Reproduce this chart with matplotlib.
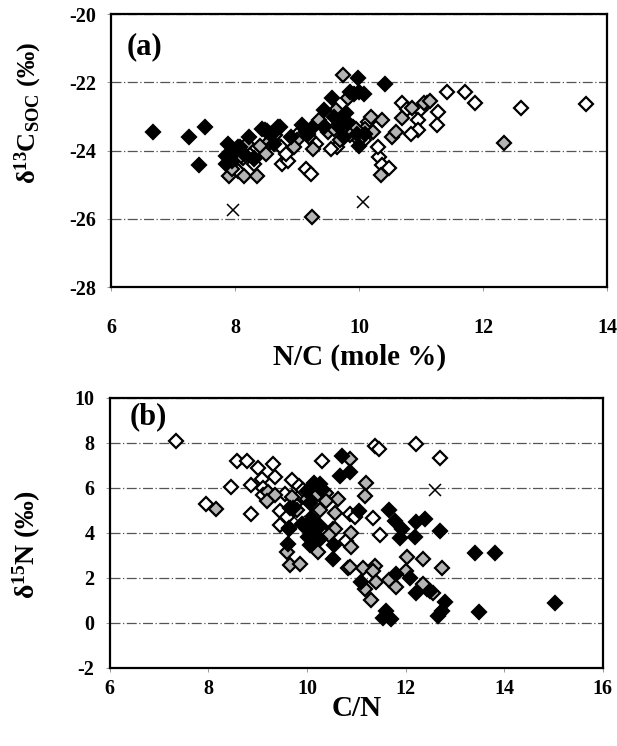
import matplotlib
matplotlib.use("Agg")
import matplotlib.pyplot as plt

plt.rcParams['font.family'] = ['Liberation Serif', 'DejaVu Serif']
plt.rcParams['mathtext.default'] = 'regular'

# ---------------- panel (a): d13C of SOC vs N/C ----------------
a_black_x = [6.68, 7.26, 7.51, 7.42, 7.88, 7.85, 7.86, 7.95, 8.02, 8.08, 8.15, 8.23, 8.30,
             8.43, 8.48, 8.52, 8.56, 8.70, 8.62, 8.90, 9.08, 9.15, 9.24, 9.18, 9.43, 9.43,
             9.56, 9.60, 9.75, 9.79, 9.85, 9.92, 10.00, 9.99, 10.08, 10.42, 9.80, 9.72,
             10.10, 10.00, 9.68, 9.96, 8.59, 8.73]
a_black_y = [-23.46, -23.59, -23.32, -24.43, -23.79, -24.15, -24.40, -24.30, -24.00, -23.88,
             -24.10, -23.59, -24.20, -23.35, -23.38, -23.42, -23.50, -23.30, -23.80, -23.60,
             -23.25, -23.45, -23.33, -23.50, -22.80, -23.30, -22.47, -23.00, -23.60, -22.90,
             -22.27, -22.35, -22.27, -21.88, -22.35, -22.05, -23.20, -23.20, -23.50, -23.85,
             -23.30, -23.50, -23.50, -23.30]

a_open_x = [11.41, 11.70, 11.87, 12.61, 13.66, 10.69, 10.78, 10.98, 11.10, 11.27, 11.26,
            10.95, 10.95, 10.83, 9.65, 9.15, 9.23, 10.32, 10.37, 10.48, 10.08, 10.30, 8.75,
            8.86, 8.74, 8.82, 9.30, 8.00, 8.30, 8.12, 7.92, 8.20, 8.45, 9.00, 9.45, 9.90,
            10.15, 9.55, 8.60, 8.05]
a_open_y = [-22.29, -22.29, -22.60, -22.74, -22.62, -22.59, -22.77, -22.80, -22.60, -22.86,
            -23.25, -23.10, -23.40, -23.50, -23.89, -24.54, -24.67, -24.18, -24.43, -24.50,
            -23.70, -23.90, -24.38, -24.30, -23.90, -24.10, -23.80, -24.50, -24.40, -24.20,
            -24.35, -24.05, -23.95, -23.55, -23.30, -23.30, -23.15, -23.95, -23.65, -24.60]

a_grey_x = [9.74, 12.33, 9.24, 7.90, 8.15, 8.35, 9.82, 9.62, 9.70, 10.37, 10.53, 10.60,
            10.70, 10.85, 11.05, 11.15, 10.20, 10.10, 9.95, 9.85, 9.50, 9.20, 9.00, 8.95,
            8.55, 8.40, 8.20, 8.05, 8.10, 8.30, 8.65, 9.35, 9.25, 9.78, 10.35, 10.00,
            10.22, 9.60, 8.50, 7.95]
a_grey_y = [-21.79, -23.77, -25.93, -24.73, -24.73, -24.75, -22.45, -22.80, -23.70, -23.10,
            -23.60, -23.45, -23.05, -22.75, -22.60, -22.55, -23.00, -23.35, -23.35, -23.55,
            -23.45, -23.60, -23.70, -23.90, -23.75, -23.85, -23.80, -23.90, -24.15, -24.25,
            -23.55, -23.10, -23.95, -23.10, -24.70, -23.70, -23.45, -23.35, -24.10, -24.55]

a_cross_x = [7.97, 10.06]
a_cross_y = [-25.74, -25.49]

# ---------------- panel (b): d15N vs C/N ----------------
b_black_x = [10.70, 10.67, 10.87, 10.26, 10.06, 10.00, 10.15, 9.72, 9.65, 9.62, 9.64, 9.99,
             10.02, 10.12, 10.26, 10.06, 10.26, 10.10, 10.53, 10.54, 11.06, 11.67, 11.78,
             11.92, 11.88, 12.19, 12.22, 12.39, 12.69, 13.40, 13.82, 15.03, 13.49, 11.10,
             11.81, 12.08, 12.22, 12.50, 12.80, 12.73, 12.66, 11.61, 11.54, 11.71, 9.63,
             10.30, 9.90]
b_black_y = [7.43, 6.52, 6.70, 6.17, 5.34, 5.85, 6.20, 5.12, 5.12, 3.53, 4.16, 4.16,
             3.80, 3.95, 3.72, 3.45, 4.30, 4.60, 2.83, 3.45, 4.97, 5.04, 4.53,
             4.16, 3.79, 3.84, 4.48, 4.60, 4.08, 3.10, 3.12, 0.88, 0.50, 1.80,
             2.17, 2.00, 1.33, 1.40, 0.92, 0.55, 0.33, 0.55, 0.21, 0.18, 4.20,
             5.90, 4.40]

b_open_x = [7.35, 8.57, 8.79, 9.01, 9.31, 9.36, 8.45, 8.86, 9.08, 9.10, 9.10, 7.96, 8.86,
            9.45, 9.59, 9.45, 9.69, 9.84, 9.86, 10.30, 11.38, 11.46, 12.22, 12.69, 10.87,
            10.97, 11.34, 11.48, 10.80, 12.44, 9.92, 9.55, 10.10, 10.20, 9.75]
b_open_y = [8.10, 7.20, 7.20, 6.88, 7.07, 6.50, 6.05, 6.15, 6.40, 6.00, 5.70, 5.27, 4.82,
            4.97, 4.70, 4.35, 6.37, 6.08, 5.65, 7.18, 7.85, 7.75, 7.96, 7.33, 4.82,
            4.72, 4.68, 3.89, 3.64, 1.50, 5.93, 5.75, 5.60, 5.90, 5.30]

b_grey_x = [8.15, 9.20, 9.36, 9.19, 9.69, 10.87, 11.20, 11.17, 10.63, 10.53, 10.90, 10.90,
            10.83, 11.13, 11.38, 11.33, 11.17, 11.40, 11.29, 11.67, 12.00, 11.80, 12.03,
            12.36, 12.73, 12.36, 12.56, 9.60, 9.65, 9.85, 10.23, 10.12, 10.26, 10.57, 10.22,
            10.38, 10.38, 10.56, 10.88, 9.80, 10.00, 10.45]
b_grey_y = [5.07, 5.80, 5.70, 5.41, 5.60, 7.29, 6.23, 5.63, 5.49, 4.16, 4.01, 3.37,
            2.42, 2.46, 2.54, 2.30, 1.50, 1.80, 1.03, 1.92, 2.30, 1.58, 2.95,
            2.83, 2.46, 1.72, 1.33, 3.16, 2.57, 2.60, 3.16, 4.75, 5.00, 4.90, 5.71,
            5.78, 5.40, 4.16, 2.50, 5.00, 5.50, 3.90]

b_cross_x = [12.59, 9.83]
b_cross_y = [5.93, 4.50]

a_xticks = [6, 8, 10, 12, 14]
a_yticks = [-28, -26, -24, -22, -20]
b_xticks = [6, 8, 10, 12, 14, 16]
b_yticks = [-2, 0, 2, 4, 6, 8, 10]

fig = plt.figure(figsize=(6.17, 7.46), dpi=100)
ax_a = fig.add_axes([0.180, 0.615, 0.804, 0.366])
ax_b = fig.add_axes([0.178, 0.1046, 0.799, 0.362])

ms = 6.8
mew = 1.6
tick_fs = 14.5
label_fs = 21


def draw_panel(ax, bx, by, ox, oy, gx, gy, cx, cy):
    ax.plot(ox, oy, 'D', ms=ms, mfc='white', mec='black', mew=mew, ls='none', zorder=3)
    ax.plot(gx, gy, 'D', ms=ms, mfc='#b4b4b4', mec='black', mew=mew, ls='none', zorder=4)
    ax.plot(bx, by, 'D', ms=ms, mfc='black', mec='black', mew=mew, ls='none', zorder=5)
    ax.plot(cx, cy, 'x', ms=9, mec='black', mew=1.1, ls='none', zorder=6)
    for s in ax.spines.values():
        s.set_linewidth(1.6)
        s.set_color('black')
    ax.yaxis.grid(True, color='#555555', lw=0.9, ls=(0, (8, 2, 1, 2)))
    ax.set_axisbelow(True)
    ax.tick_params(axis='both', direction='out', length=3, width=0.6, color='#888888')


draw_panel(ax_a, a_black_x, a_black_y, a_open_x, a_open_y, a_grey_x, a_grey_y,
           a_cross_x, a_cross_y)
ax_a.set_xlim(6, 14)
ax_a.set_ylim(-28, -20)
ax_a.set_xticks(a_xticks)
ax_a.set_yticks(a_yticks)
ax_a.set_xticklabels([str(v) for v in a_xticks], fontweight='bold', fontsize=tick_fs)
ax_a.set_yticklabels([str(v) for v in a_yticks], fontweight='bold', fontsize=tick_fs)
ax_a.tick_params(axis='x', pad=19)
ax_a.tick_params(axis='y', pad=8)
ax_a.set_xlabel('N/C (mole %)', fontsize=label_fs, fontweight='bold', labelpad=4)
ax_a.set_ylabel('δ$^{13}$C$_{SOC}$ (‰)', fontsize=19, fontweight='bold')
ax_a.yaxis.set_label_coords(-0.135, 0.64)
ax_a.text(0.032, 0.935, '(a)', transform=ax_a.transAxes, fontsize=22, fontweight='bold',
          va='top', ha='left')

draw_panel(ax_b, b_black_x, b_black_y, b_open_x, b_open_y, b_grey_x, b_grey_y,
           b_cross_x, b_cross_y)
ax_b.set_xlim(6, 16)
ax_b.set_ylim(-2, 10)
ax_b.set_xticks(b_xticks)
ax_b.set_yticks(b_yticks)
ax_b.set_xticklabels([str(v) for v in b_xticks], fontweight='bold', fontsize=tick_fs)
ax_b.set_yticklabels([str(v) for v in b_yticks], fontweight='bold', fontsize=tick_fs)
ax_b.tick_params(axis='x', pad=5)
ax_b.tick_params(axis='y', pad=8)
ax_b.set_xlabel('C/N', fontsize=label_fs, fontweight='bold', labelpad=-3)
ax_b.set_ylabel('δ$^{15}$N (‰)', fontsize=20, fontweight='bold')
ax_b.yaxis.set_label_coords(-0.135, 0.455)
ax_b.text(0.04, 0.985, '(b)', transform=ax_b.transAxes, fontsize=22, fontweight='bold',
          va='top', ha='left')

fig.savefig('out.png', dpi=100)
